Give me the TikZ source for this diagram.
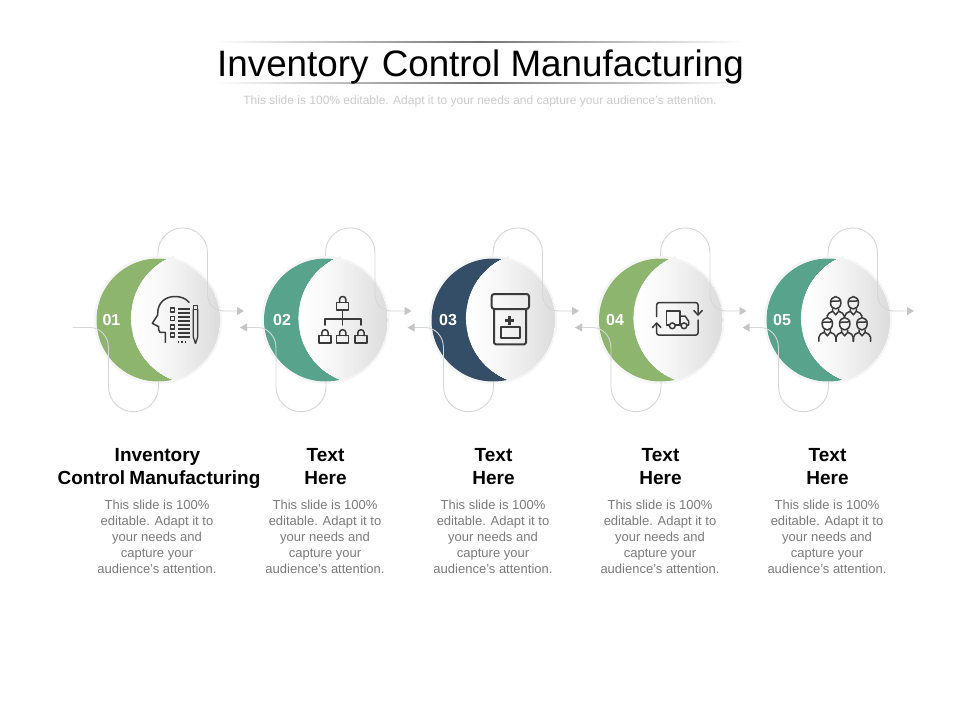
\documentclass[tikz,border=0pt]{standalone}
\usepackage{fontspec}
\setmainfont{Liberation Sans}
\usetikzlibrary{arrows.meta}
\definecolor{cgreen}{HTML}{8DB56D}
\definecolor{cteal}{HTML}{58A38C}
\definecolor{cnavy}{HTML}{344E68}
\definecolor{clink}{HTML}{D6D6D6}
\definecolor{ctip}{HTML}{C6C6C6}
\definecolor{cicon}{HTML}{3A3A3A}
\definecolor{cbody}{HTML}{7A7A7A}
\definecolor{csub}{HTML}{CBCBCB}
\definecolor{cdisk}{HTML}{DCDBDC}
\definecolor{cring}{HTML}{F5F5F5}
\tikzset{
  x=1pt,y=-1pt,
  link/.style={draw=clink,line width=0.9pt,line join=round},
  tipped/.style={-{Triangle[length=7pt,width=8pt,color=ctip,fill=ctip]}},
  tippedback/.style={{Triangle[length=7pt,width=8pt,color=ctip,fill=ctip]}-},
  iconline/.style={draw=cicon,line width=1.5pt,line join=round,line cap=round},
  iconthick/.style={draw=cicon,line width=2pt,line join=round,line cap=round},
  numlabel/.style={text=white,font=\fontsize{16}{18}\selectfont\bfseries,inner sep=0pt},
  headlabel/.style={text=black,font=\fontsize{19}{23}\selectfont\bfseries,align=center,inner sep=0pt,anchor=north},
  bodylabel/.style={text=cbody,font=\fontsize{13}{16}\selectfont,align=center,inner sep=0pt,anchor=north},
  rulebar/.style={left color=white,right color=white,middle color=black!55,draw=none}
}
\newcommand{\drawlock}[2]{%
  \draw[iconline] (#1-6,#2) rectangle (#1+6,#2+7.5);
  \draw[iconline] (#1-3.2,#2) -- (#1-3.2,#2-3) .. controls (#1-3.2,#2-7) and (#1+3.2,#2-7) .. (#1+3.2,#2-3) -- (#1+3.2,#2);
}
\newcommand{\drawperson}[3]{%
  \begin{scope}[shift={(#1,#2)}]
    \draw[iconline] (0,-0.5) ellipse [x radius=5.2pt,y radius=6.2pt];
    \draw[iconline] (-5,-1.5) .. controls (-2,-3.5) and (2,-1) .. (5,-3);
    \draw[iconline] (-8.5,#3) -- (-8.5,13) .. controls (-8.5,10) and (-6,9.5) .. (-3,8) -- (-3,5.5);
    \draw[iconline] (8.5,#3) -- (8.5,13) .. controls (8.5,10) and (6,9.5) .. (3,8) -- (3,5.5);
    \draw[iconline] (-3,8) -- (0,11.5) -- (3,8);
  \end{scope}
}
\begin{document}
\begin{tikzpicture}
\useasboundingbox (0,0) rectangle (960,720);
\fill[white] (0,0) rectangle (960,720);

% title
\fill[rulebar] (215,41.4) rectangle (745,42.8);
\fill[rulebar] (215,82.4) rectangle (745,83.8);
\node[text=black,font=\fontsize{36.8}{40}\selectfont,inner sep=0pt] (title) at (480.5,67) {Inventory\hspace{3pt} Control Manufacturing};
\node[text=csub,font=\fontsize{12}{14}\selectfont,inner sep=0pt] (subtitle) at (480,101.5) {This slide is 100\% editable. Adapt it to your needs and capture your audience's attention.};

% steps
\foreach \i/\c/\col/\num/\nx in {1/158/cgreen/01/111.5,2/325.5/cteal/02/282,3/493/cnavy/03/448,4/660.5/cgreen/04/615,5/828/cteal/05/782}{
  \draw[draw=cring,line width=2pt,fill=white] (\c,320) circle[radius=63pt];
  \fill[\col] (\c,320) circle[radius=61.5pt];
  \begin{scope}
    \clip (\c+15,260.35) arc[start angle=75.9,end angle=-75.9,radius=61.5pt] arc[start angle=248.7,end angle=111.3,radius=66pt] -- cycle;
    \foreach \k in {0,...,32}{
      \pgfmathsetmacro{\pct}{100*(\k/32)^1.4}
      \pgfmathsetmacro{\xs}{\c-28+\k*90/32}
      \fill[cdisk!\pct!white] (\xs,250) rectangle (\c+64,390);
    }
  \end{scope}
  \node[numlabel] (num\i) at (\nx,320) {\num};
  \begin{scope}[shift={(\c,0)}]
    \coordinate (upa\i) at (0,256);
    \coordinate (upb\i) at (86,311);
    \coordinate (loa\i) at (-85.5,327.5);
    \coordinate (lob\i) at (0.5,381.5);
  \end{scope}
  \draw[link,tipped] (upa\i) -- (\c,252.7)
     .. controls (\c,239) and (\c+11,227.9) .. (\c+24.75,227.9)
     .. controls (\c+38.4,227.9) and (\c+49.5,239) .. (\c+49.5,252.7)
     -- (\c+49.5,293) .. controls (\c+49.5,304) and (\c+56,311) .. (\c+66,311)
     -- (upb\i);
  \ifnum\i=1
    \draw[link] (loa\i) -- (\c-68,327.5) .. controls (\c-58,327.5) and (\c-49.5,336) .. (\c-49.5,348)
       -- (\c-49.5,386.7) .. controls (\c-49.5,400.5) and (\c-38.5,411.7) .. (\c-24.5,411.7)
       .. controls (\c-10.5,411.7) and (\c+0.5,400.5) .. (\c+0.5,386.7) -- (lob\i);
  \else
    \draw[link,tippedback] (loa\i) -- (\c-68,327.5) .. controls (\c-58,327.5) and (\c-49.5,336) .. (\c-49.5,348)
       -- (\c-49.5,386.7) .. controls (\c-49.5,400.5) and (\c-38.5,411.7) .. (\c-24.5,411.7)
       .. controls (\c-10.5,411.7) and (\c+0.5,400.5) .. (\c+0.5,386.7) -- (lob\i);
  \fi
}

% icon 1: head and checklist
\draw[iconline] (165.3,342.3) -- (165.3,332.3) -- (160,332.3) -- (158.7,330) -- (158.7,326.7) -- (152.3,323.3) -- (157.7,315)
  .. controls (157,303) and (165,296.5) .. (175,296.5) .. controls (181,296.5) and (186,298.5) .. (189,302.3);
\foreach \y in {310,318.5,327,335}{
  \draw[iconline,line width=1.3pt] (170.7,\y-2) rectangle (174.7,\y+2);
}
\foreach \y in {309,313,317,321,325,329,333,337}{
  \draw[iconline,line width=1.3pt,line cap=butt] (177.5,\y) -- (190,\y);
}
\draw[draw=cicon,line width=1.3pt,dash pattern=on 1.3pt off 2pt] (178,342) -- (187,342);
\draw[iconline,line width=1.3pt] (193.3,305.5) rectangle (197.7,309.5);
\draw[iconline,line width=1.3pt] (193.3,309.5) -- (193.3,337) -- (195.5,343.5) -- (197.7,337) -- (197.7,309.5);

% icon 2: hierarchy
\drawlock{342.7}{302.5}
\draw[iconline] (342.7,310) -- (342.7,325);
\draw[iconline] (325,325) -- (325,319) -- (361,319) -- (361,325);
\drawlock{325}{335.7}
\drawlock{342.7}{335.7}
\drawlock{361}{335.7}

% icon 3: bottle
\draw[iconthick,rounded corners=2.5pt] (491.7,294) rectangle (529,309);
\draw[iconthick,rounded corners=1.5pt] (494,309) -- (494,344.3) -- (526,344.3) -- (526,309);
\draw[iconthick] (500.7,326.7) rectangle (520,337.7);
\draw[draw=cicon,line width=2.6pt] (505,320.5) -- (513.5,320.5) (509.3,316.3) -- (509.3,324.7);

% icon 4: truck in frame
\draw[iconline,rounded corners=2pt] (656.7,316.7) -- (656.7,302.7) -- (698,302.7) -- (698,314.5);
\draw[iconline,rounded corners=2pt] (698,320) -- (698,335) -- (656.7,335) -- (656.7,323.5);
\draw[iconline] (652.5,327.5) -- (656.7,323) -- (660.9,327.5);
\draw[iconline] (693.8,310.5) -- (698,315) -- (702.2,310.5);
\draw[iconline] (666.7,325) -- (666.7,311) -- (680,311) -- (680,325);
\draw[iconline] (680,316) -- (685,316) -- (688.5,321) -- (688.5,325) -- (687,325);
\draw[iconline] (666.7,325) -- (669.3,325) (675.3,325) -- (681,325);
\draw[iconline] (672.3,325.8) circle[radius=2.9pt];
\draw[iconline] (684,325.8) circle[radius=2.9pt];

% icon 5: people
\drawperson{835.7}{303.3}{12}
\drawperson{853.3}{303.3}{12}
\drawperson{827.3}{324.3}{17}
\drawperson{844.7}{324.3}{17}
\drawperson{862}{324.3}{17}

% captions
\node[headlabel] (h1) at (159,448.5) {Inventory\hspace*{3pt}\\Control\hspace{-1pt} Manufacturing};
\node[headlabel] (h2) at (325.5,448.5) {Text\\Here};
\node[headlabel] (h3) at (493.5,448.5) {Text\\Here};
\node[headlabel] (h4) at (660.5,448.5) {Text\\Here};
\node[headlabel] (h5) at (827.5,448.5) {Text\\Here};
\foreach \i/\c in {1/157,2/325,3/493,4/660,5/827}{
  \node[bodylabel] (b\i) at (\c,500) {This slide is 100\%\\editable. Adapt it to\\your needs and\\capture your\\audience's attention.};
}
\end{tikzpicture}
\end{document}
